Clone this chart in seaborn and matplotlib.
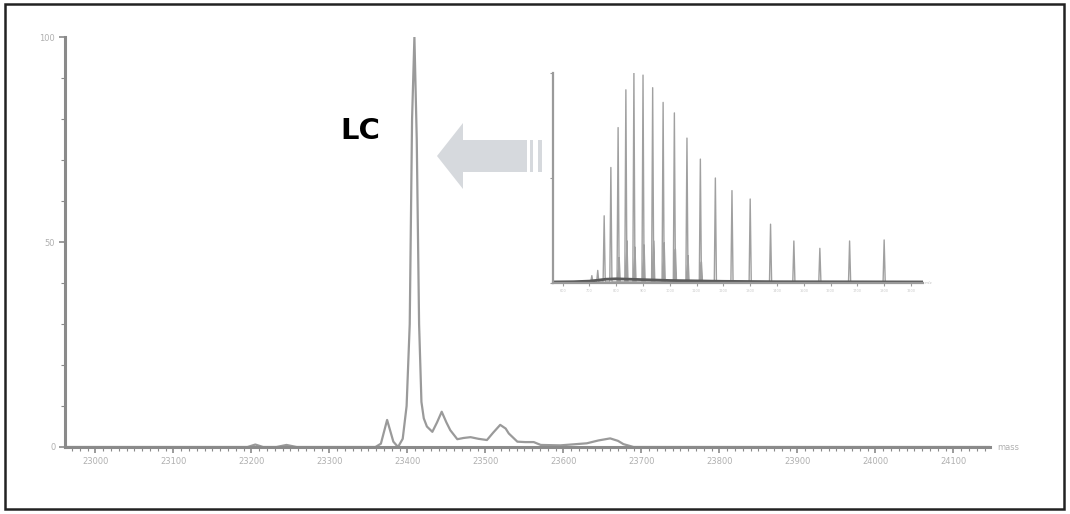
import matplotlib
matplotlib.use("Agg")
import matplotlib.pyplot as plt
import seaborn as sns
from matplotlib.ticker import MultipleLocator, FixedLocator
from matplotlib.patches import Polygon, Rectangle

# ---------------- data ----------------
# main (deconvoluted) trace: mass (Da) vs relative intensity (%)
main_mass = [22961, 23195, 23205, 23215, 23232, 23245, 23258, 23359, 23366, 23374,
             23382, 23388, 23394, 23399, 23403, 23406, 23409, 23412, 23415, 23418,
             23421, 23425, 23432, 23438, 23444, 23450, 23455, 23464, 23472, 23481,
             23491, 23502, 23510, 23519, 23526, 23530, 23541, 23551, 23562, 23571,
             23596, 23630, 23645, 23660, 23670, 23677, 23690, 24147]
main_int = [0, 0, 0.6, 0, 0, 0.5, 0, 0, 0.8, 6.6,
            1.3, 0, 2, 10, 30, 80, 100, 75, 30, 11,
            7, 5, 3.7, 6, 8.6, 6, 4.1, 1.9, 2.2, 2.4,
            2, 1.7, 3.5, 5.4, 4.5, 3.3, 1.3, 1.2, 1.2, 0.5,
            0.4, 0.9, 1.6, 2.1, 1.5, 0.7, 0, 0]
main_ticks = [23000, 23100, 23200, 23300, 23400, 23500, 23600, 23700, 23800, 23900, 24000, 24100]
main_tick_labels = ["23000", "23100", "23200", "23300", "23400", "23500",
                    "23600", "23700", "23800", "23900", "24000", "24100"]
y_ticks = [0, 50, 100]
y_tick_labels = ["0", "50", "100"]

# inset (raw charge-state envelope): m/z vs relative intensity (%)
inset_mz = [709, 731, 755, 780, 807, 836, 866, 900, 936, 975, 1017,
            1064, 1114, 1170, 1232, 1300, 1376, 1463, 1560, 1671, 1800]
inset_int = [3.5, 6, 32, 55, 74, 92, 100, 99, 93, 86, 81,
             69, 59, 50, 44, 40, 28, 20, 16.5, 20, 20.5]
side_mz = [811, 840, 870, 904, 940, 979, 1021, 1068, 1118]
side_int = [12, 20, 17, 18, 20, 19, 16, 13, 10]
base_mz = [564, 640, 700, 730, 760, 800, 850, 900, 950, 1000, 1100, 1200, 1400, 1945]
base_int = [0.5, 0.6, 0.9, 1.3, 1.8, 2.0, 1.8, 1.6, 1.4, 1.2, 1.0, 0.8, 0.6, 0.5]
inset_ticks = [600, 700, 800, 900, 1000, 1100, 1200, 1300, 1400, 1500, 1600, 1700, 1800, 1900]

# ---------------- figure ----------------
sns.set_style("ticks")
plt.rcParams['font.family'] = ['DejaVu Sans']
W, H = 1070, 514
fig = plt.figure(figsize=(W / 100, H / 100), dpi=100)
fig.patch.set_facecolor("white")

def frac(px_left, px_top, px_right, px_bottom):
    return [px_left / W, 1 - px_bottom / H, (px_right - px_left) / W, (px_bottom - px_top) / H]

grey_axis = "#8a8a8a"
grey_line = "#9a9a9a"
grey_text = "#b0b0b0"

# main axes
ax = fig.add_axes(frac(65, 37, 990, 447))
sns.lineplot(x=main_mass, y=main_int, ax=ax, sort=False, estimator=None,
             color=grey_line, lw=1.6)
ax.set_xlim(22961, 24147)
ax.set_ylim(0, 100)
for s in ["top", "right"]:
    ax.spines[s].set_visible(False)
for s in ["left", "bottom"]:
    ax.spines[s].set_color(grey_axis)
    ax.spines[s].set_linewidth(2.2)
ax.xaxis.set_major_locator(FixedLocator(main_ticks))
ax.set_xticklabels(main_tick_labels)
ax.xaxis.set_minor_locator(MultipleLocator(10))
ax.yaxis.set_major_locator(FixedLocator(y_ticks))
ax.set_yticklabels(y_tick_labels)
ax.yaxis.set_minor_locator(MultipleLocator(10))
ax.tick_params(axis="both", which="major", length=4, width=1.2, color=grey_axis,
               labelsize=6, labelcolor=grey_text, pad=3)
ax.tick_params(axis="both", which="minor", length=3, width=0.8, color=grey_axis)
ax.set_xlabel("")
ax.set_ylabel("")
ax.text(1.008, 0.0, "mass", transform=ax.transAxes, fontsize=6, color=grey_text,
        va="center", ha="left")
ax.set_facecolor("white")

# inset axes
ia = fig.add_axes(frac(553, 73, 923, 283))
ia.set_facecolor("white")
tx, ty = [], []
for c, h in sorted(zip(inset_mz + side_mz, inset_int + side_int)):
    tx += [c - 4, c, c + 4]
    ty += [0.5, h, 0.5]
sns.lineplot(x=tx, y=ty, ax=ia, sort=False, estimator=None,
             color="#a0a0a0", lw=1.0)
sns.lineplot(x=base_mz, y=base_int, ax=ia, sort=False, estimator=None,
             color="#5a5a5a", lw=2.0)
ia.set_xlim(564, 1945)
ia.set_ylim(0, 100)
for s in ["top", "right"]:
    ia.spines[s].set_visible(False)
for s in ["left", "bottom"]:
    ia.spines[s].set_color("#9a9a9a")
    ia.spines[s].set_linewidth(1.6)
ia.xaxis.set_major_locator(FixedLocator(inset_ticks))
ia.set_xticklabels([str(t) for t in inset_ticks])
ia.yaxis.set_major_locator(FixedLocator([0, 50, 100]))
ia.set_yticklabels(["", "", ""])
ia.tick_params(axis="both", which="major", length=2.5, width=0.8, color="#9a9a9a",
               labelsize=2.5, labelcolor="#c8c8c8", pad=1.5)
ia.set_xlabel("")
ia.set_ylabel("")
ia.text(1.005, 0.0, "m/z", transform=ia.transAxes, fontsize=3, color="#c0c0c0",
        va="center", ha="left")

# overlay for annotations (arrow, label, frame)
ov = fig.add_axes([0, 0, 1, 1], zorder=10)
ov.set_xlim(0, W)
ov.set_ylim(H, 0)
ov.axis("off")
ov.patch.set_alpha(0)
arrow_col = "#d6d9dd"
ov.add_patch(Polygon([[437, 156], [463, 123], [463, 140], [527, 140], [527, 172],
                      [463, 172], [463, 189]], closed=True, color=arrow_col, lw=0))
ov.add_patch(Rectangle((530, 140), 3, 32, color=arrow_col, lw=0))
ov.add_patch(Rectangle((538, 140), 4, 32, color=arrow_col, lw=0))
ov.text(360, 131, "LC", fontsize=21, fontweight="bold", color="black",
        ha="center", va="center")
ov.add_patch(Rectangle((5, 4), 1059, 505, fill=False, ec="#222222", lw=1.8))

fig.savefig("out.png", dpi=100, facecolor="white")
